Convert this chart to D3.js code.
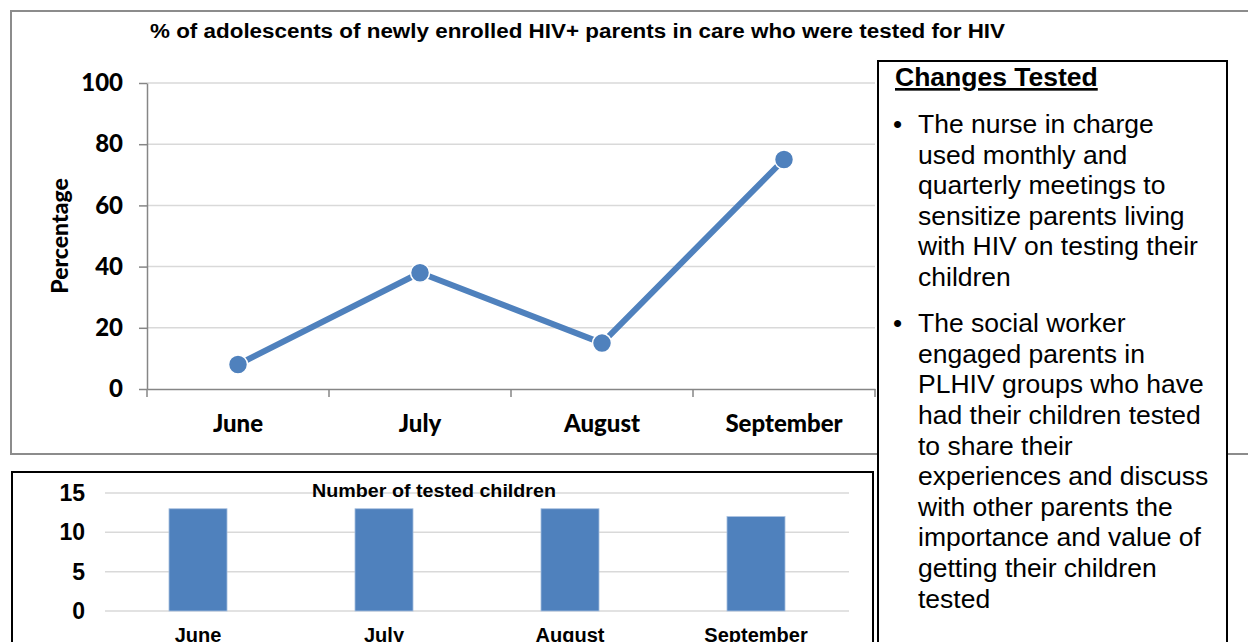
<!doctype html>
<html lang="en">
<head>
  <meta charset="utf-8">
  <title>HIV testing of adolescents</title>
  <script src="https://d3js.org/d3.v7.min.js"></script>
  <style>
    body { margin: 0; background: #fff; }
    svg { display: block; }
  </style>
</head>
<body>
  <div id='my_chart'></div>
<script>
  // data
  const months = ['June', 'July', 'August', 'September'];
  const pct_tested = [8, 38, 15, 75];
  const num_tested = [13, 13, 13, 12];
  const pct_ticks = [0, 20, 40, 60, 80, 100];
  const num_ticks = [0, 5, 10, 15];

  const title_top = '% of adolescents of newly enrolled HIV+ parents in care who were tested for HIV';
  const title_bottom = 'Number of tested children';
  const box_title = 'Changes Tested';
  const bullets = [
    ['The nurse in charge', 'used monthly and', 'quarterly meetings to', 'sensitize parents living', 'with HIV on testing their', 'children'],
    ['The social worker', 'engaged parents in', 'PLHIV groups who have', 'had their children tested', 'to share their', 'experiences and discuss', 'with other parents the', 'importance and value of', 'getting their children', 'tested']
  ];

  const blue = '#4f81bd';
  const grid = '#d9d9d9';
  const label_font = 'Lato, "Open Sans", sans-serif';
  const arial = '"Liberation Sans", Arial, sans-serif';

  const svg = d3.select('#my_chart').append('svg')
    .attr('width', 1248)
    .attr('height', 642);

  // ---------- top chart (line) ----------
  svg.append('rect')
    .attr('x', 11).attr('y', 11)
    .attr('width', 1250).attr('height', 443)
    .attr('fill', '#fff')
    .attr('stroke', '#8c8c8c')
    .attr('stroke-width', 2);

  svg.append('text')
    .attr('x', 150).attr('y', 38)
    .attr('textLength', 855)
    .attr('lengthAdjust', 'spacingAndGlyphs')
    .style('font', 'bold 20px ' + arial)
    .text(title_top);

  const x = d3.scaleBand().domain(months).range([147, 875]);
  const y = d3.scaleLinear().domain([0, 100]).range([389, 83]);

  // gridlines
  svg.append('g')
    .selectAll('line')
    .data(pct_ticks.filter(d => d > 0))
    .join('line')
      .attr('x1', 147).attr('x2', 875)
      .attr('y1', d => y(d)).attr('y2', d => y(d))
      .attr('stroke', grid).attr('stroke-width', 1.5);

  const y_axis = svg.append('g')
    .attr('transform', 'translate(147,0)')
    .call(d3.axisLeft(y).tickValues(pct_ticks).tickSize(8).tickPadding(16).tickSizeOuter(0));
  y_axis.select('.domain').attr('stroke', '#868686').attr('stroke-width', 1.5);
  y_axis.selectAll('.tick line').attr('stroke', '#868686').attr('stroke-width', 1.5);
  y_axis.selectAll('.tick text')
    .style('font', '900 24px ' + label_font).attr('fill', '#000');

  const x_axis = svg.append('g')
    .attr('transform', 'translate(0,389)')
    .call(d3.axisBottom(x).tickSize(0).tickPadding(26).tickSizeOuter(0));
  x_axis.select('.domain').attr('stroke', '#868686').attr('stroke-width', 1.5);
  x_axis.selectAll('.tick text')
    .style('font', '900 24px ' + label_font).attr('fill', '#000');
  // tick marks between categories
  x_axis.append('g')
    .selectAll('line')
    .data(months.map(m => x(m)).concat([x.range()[1]]))
    .join('line')
      .attr('x1', d => d).attr('x2', d => d)
      .attr('y1', 0).attr('y2', 8)
      .attr('stroke', '#868686').attr('stroke-width', 1.5);

  svg.append('text')
    .attr('transform', 'translate(68,236) rotate(-90)')
    .attr('text-anchor', 'middle')
    .style('font', '900 23px ' + label_font)
    .text('Percentage');

  const line = d3.line()
    .x((d, i) => x(months[i]) + x.bandwidth() / 2)
    .y(d => y(d));

  svg.append('path')
    .datum(pct_tested)
    .attr('d', line)
    .attr('fill', 'none')
    .attr('stroke', blue)
    .attr('stroke-width', 6)
    .attr('stroke-linejoin', 'round');

  svg.append('g')
    .selectAll('circle')
    .data(pct_tested)
    .join('circle')
      .attr('cx', (d, i) => x(months[i]) + x.bandwidth() / 2)
      .attr('cy', d => y(d))
      .attr('r', 9.5)
      .attr('fill', blue)
      .attr('stroke', '#fff')
      .attr('stroke-width', 1.5);

  // ---------- bottom chart (bars) ----------
  svg.append('rect')
    .attr('x', 12).attr('y', 472)
    .attr('width', 861).attr('height', 200)
    .attr('fill', '#fff')
    .attr('stroke', '#000')
    .attr('stroke-width', 2);

  const xb = d3.scaleBand().domain(months).range([105, 849])
    .paddingInner(0.688).paddingOuter(0.344);
  const yb = d3.scaleLinear().domain([0, 15]).range([611, 493]);

  svg.append('g')
    .selectAll('line')
    .data(num_ticks)
    .join('line')
      .attr('x1', 105).attr('x2', 849)
      .attr('y1', d => yb(d)).attr('y2', d => yb(d))
      .attr('stroke', grid).attr('stroke-width', 1.5);

  const yb_axis = svg.append('g')
    .attr('transform', 'translate(105,0)')
    .call(d3.axisLeft(yb).tickValues(num_ticks).tickSize(0).tickPadding(20));
  yb_axis.select('.domain').remove();
  yb_axis.selectAll('.tick text')
    .style('font', 'bold 23px ' + arial).attr('fill', '#000');

  const xb_axis = svg.append('g')
    .attr('transform', 'translate(0,611)')
    .call(d3.axisBottom(xb).tickSize(0).tickPadding(17));
  xb_axis.select('.domain').remove();
  xb_axis.selectAll('.tick text')
    .style('font', 'bold 20px ' + arial).attr('fill', '#000');

  svg.append('g')
    .selectAll('rect')
    .data(num_tested)
    .join('rect')
      .attr('x', (d, i) => xb(months[i]))
      .attr('y', d => yb(d))
      .attr('width', xb.bandwidth())
      .attr('height', d => yb(0) - yb(d))
      .attr('fill', blue)
      .attr('stroke', '#a9c1e0')
      .attr('stroke-width', 0.8);

  svg.append('text')
    .attr('x', 312).attr('y', 497)
    .attr('textLength', 244)
    .attr('lengthAdjust', 'spacingAndGlyphs')
    .style('font', 'bold 19px ' + arial)
    .text(title_bottom);

  // ---------- text box ----------
  svg.append('rect')
    .attr('x', 878).attr('y', 61)
    .attr('width', 349).attr('height', 600)
    .attr('fill', '#fff')
    .attr('stroke', '#000')
    .attr('stroke-width', 2);

  svg.append('text')
    .attr('x', 895).attr('y', 86)
    .style('font', 'bold 26.5px ' + arial)
    .style('text-decoration', 'underline')
    .text(box_title);

  const line_h = 30.6;
  let ty = 133;
  bullets.forEach(lines => {
    svg.append('text')
      .attr('x', 893).attr('y', ty)
      .style('font', '26px ' + arial)
      .text('\u2022');
    lines.forEach((l, i) => {
      svg.append('text')
        .attr('x', 918).attr('y', ty + i * line_h)
        .style('font', '26.5px ' + arial)
        .text(l);
    });
    ty += lines.length * line_h + 15.5;
  });
</script>
</body>
</html>
